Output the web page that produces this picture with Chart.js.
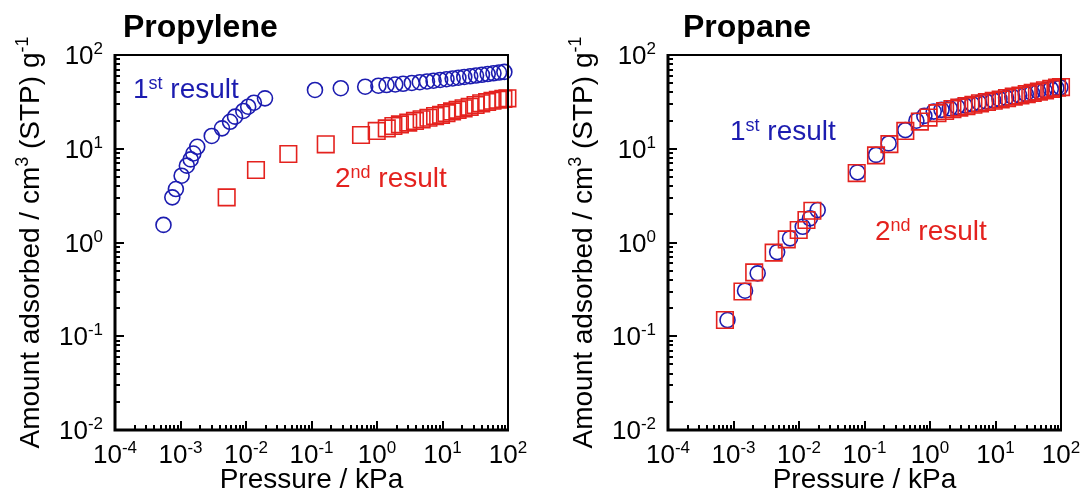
<!DOCTYPE html>
<html>
<head>
<meta charset="utf-8">
<script src="https://cdn.jsdelivr.net/npm/chart.js@4.4.0/dist/chart.umd.min.js"></script>
<style>
  html, body { margin: 0; padding: 0; background: #fff; }
  #wrap { position: relative; width: 1083px; height: 490px; }
  #wrap canvas { position: absolute; top: 0; }
</style>
</head>
<body>
<div id="wrap">
  <canvas id="propylene" width="540" height="490" style="left:0"></canvas>
  <canvas id="propane" width="543" height="490" style="left:540px"></canvas>
</div>
<script>
// Propylene isotherm, pressure in kPa, amount in cm3(STP)/g
var propyleneP1 = [5.5e-4, 7.5e-4, 8.5e-4, 1.04e-3, 1.25e-3, 1.43e-3, 1.57e-3, 1.8e-3, 3.0e-3, 4.3e-3,
  5.7e-3, 6.8e-3, 9.1e-3, 1.08e-2, 1.32e-2, 1.95e-2, 0.113, 0.28, 0.66, 1.05, 1.4, 1.9, 2.5, 3.4, 4.5,
  5.8, 7.3, 9.2, 11.5, 14.3, 17.5, 21.5, 26.5, 32.5, 40, 49, 60, 73, 88];
var propyleneQ1 = [1.54, 3.03, 3.72, 5.16, 6.6, 7.7, 8.9, 10.5, 13.7, 16.5,
  19.4, 22, 25.3, 28.1, 31, 34.5, 42.4, 44.2, 45.9, 47, 47.8, 48.5, 49.3, 50.3, 51.3,
  52.2, 53.2, 54.2, 55.2, 56.2, 57.2, 58.3, 59.3, 60.4, 61.5, 62.6, 63.8, 65, 66];
var propyleneP2 = [5.07e-3, 1.42e-2, 4.43e-2, 0.165, 0.57, 0.99, 1.41, 1.78, 2.24, 3.0, 3.8, 4.8, 6.1,
  7.7, 9.5, 11.5, 14, 17, 21, 26, 32, 39, 48, 58, 70, 85, 98];
var propyleneQ2 = [3.03, 5.93, 8.79, 11.15, 14.0, 15.5, 16.5, 17.5, 18.2, 19.0, 19.8, 20.6, 21.4,
  22.3, 23, 24, 25, 26, 27, 28, 29.3, 30.5, 31.5, 32.5, 33.3, 34, 34.5];

// Propane isotherm
var propaneP1 = [8.1e-4, 1.5e-3, 2.34e-3, 4.64e-3, 7.3e-3, 1.14e-2, 1.47e-2, 1.93e-2, 7.8e-2, 0.15,
  0.234, 0.42, 0.62, 0.82, 1.14, 1.5, 2.0, 2.6, 3.4, 4.4, 5.6, 7.2, 9.2, 11.5, 14.5, 18, 23, 29,
  36, 45, 56, 70, 85, 98];
var propaneQ1 = [0.149, 0.306, 0.469, 0.79, 1.107, 1.47, 1.81, 2.22, 5.6, 8.6,
  11.4, 15.8, 19.9, 22.4, 24.9, 26, 27, 28, 29, 30, 31, 32, 33, 34, 35, 36, 37.2, 38.3,
  39.5, 40.8, 42, 43.5, 44.5, 45.2];
var propaneP2 = [7.4e-4, 1.37e-3, 2.07e-3, 4.1e-3, 6.5e-3, 9.9e-3, 1.3e-2, 1.6e-2, 7.6e-2, 0.15,
  0.24, 0.42, 0.7, 0.95, 1.3, 1.7, 2.2, 2.8, 3.6, 4.6, 5.8, 7.4, 9.4, 12, 15, 19, 24, 30,
  37, 46, 57, 71, 87, 100];
var propaneQ2 = [0.149, 0.30, 0.48, 0.78, 1.08, 1.36, 1.74, 2.18, 5.5, 8.5,
  11.2, 15.5, 19.5, 21.5, 24, 25.3, 26.5, 27.5, 28.5, 29.5, 30.5, 31.5, 32.5, 33.5, 34.7, 36, 37, 38.2,
  39.5, 40.7, 42, 43.5, 44.8, 45.5];

// decade exponents for the tick labels
var xTickExps = [-4, -3, -2, -1, 0, 1, 2];
var yTickExps = [-2, -1, 0, 1, 2];

var BLUE = '#1c1cb0';
var RED = '#e4221e';
var FONT = "'Liberation Sans', Arial, sans-serif";

function pts(xs, ys) {
  return xs.map(function (v, i) { return { x: v, y: ys[i] }; });
}

// draws a run of text pieces, some raised as superscripts
function drawRun(ctx, parts, x, y, align, size, supSize, rise, weight) {
  var w = 0;
  parts.forEach(function (p) {
    ctx.font = (weight || 'normal') + ' ' + (p.sup ? supSize : size) + 'px ' + FONT;
    p.w = ctx.measureText(p.t).width;
    w += p.w;
  });
  var cx = align === 'center' ? x - w / 2 : (align === 'right' ? x - w : x);
  ctx.textAlign = 'left';
  ctx.textBaseline = 'alphabetic';
  parts.forEach(function (p) {
    ctx.font = (weight || 'normal') + ' ' + (p.sup ? supSize : size) + 'px ' + FONT;
    ctx.fillText(p.t, cx, p.sup ? y - rise : y);
    cx += p.w;
  });
}

function pow10(e) {
  return [{ t: '10' }, { t: String(e), sup: true }];
}

var framePlugin = {
  id: 'isoFrame',
  afterDatasetsDraw: function (chart) {
    var ctx = chart.ctx, a = chart.chartArea, xs = chart.scales.x, ys = chart.scales.y;
    ctx.save();
    ctx.strokeStyle = '#000';
    ctx.lineWidth = 2;
    ctx.beginPath();
    xTickExps.forEach(function (e, i) {
      for (var m = 1; m < 10; m++) {
        if (m > 1 && i === xTickExps.length - 1) break;
        var px = Math.round(xs.getPixelForValue(m * Math.pow(10, e)));
        var len = m === 1 ? 9 : 5;
        ctx.moveTo(px, a.bottom);
        ctx.lineTo(px, a.bottom - len);
      }
    });
    yTickExps.forEach(function (e, i) {
      for (var m = 1; m < 10; m++) {
        if (m > 1 && i === yTickExps.length - 1) break;
        var py = Math.round(ys.getPixelForValue(m * Math.pow(10, e)));
        var len = m === 1 ? 9 : 5;
        ctx.moveTo(a.left, py);
        ctx.lineTo(a.left + len, py);
      }
    });
    ctx.stroke();
    // box
    ctx.lineWidth = 2;
    ctx.beginPath();
    ctx.moveTo(a.left, a.top);
    ctx.lineTo(a.right, a.top);
    ctx.lineTo(a.right, a.bottom);
    ctx.stroke();
    ctx.lineWidth = 3;
    ctx.beginPath();
    ctx.moveTo(a.left, a.top - 1);
    ctx.lineTo(a.left, a.bottom);
    ctx.lineTo(a.right + 1, a.bottom);
    ctx.stroke();
    ctx.restore();
  },
  afterDraw: function (chart, args, opts) {
    var ctx = chart.ctx, a = chart.chartArea, xs = chart.scales.x, ys = chart.scales.y;
    ctx.save();
    ctx.fillStyle = '#000';
    // tick labels
    xTickExps.forEach(function (e) {
      drawRun(ctx, pow10(e), xs.getPixelForValue(Math.pow(10, e)), a.bottom + 33, 'center', 26, 17, 10);
    });
    yTickExps.forEach(function (e) {
      drawRun(ctx, pow10(e), a.left - 12, ys.getPixelForValue(Math.pow(10, e)) + 9, 'right', 26, 17, 10);
    });
    // axis titles
    drawRun(ctx, [{ t: 'Pressure / kPa' }], (a.left + a.right) / 2, a.bottom + 58, 'center', 28, 18, 0);
    ctx.save();
    ctx.translate(a.left - 76, (a.top + a.bottom) / 2);
    ctx.rotate(-Math.PI / 2);
    drawRun(ctx, [{ t: 'Amount adsorbed / cm' }, { t: '3', sup: true }, { t: ' (STP) g' }, { t: '-1', sup: true }],
      0, 0, 'center', 28, 18, 11);
    ctx.restore();
    // panel title
    drawRun(ctx, [{ t: opts.title }], a.left + opts.titleDx, 37, 'left', 32, 20, 0, 'bold');
    // run labels
    opts.notes.forEach(function (n) {
      ctx.fillStyle = n.color;
      drawRun(ctx, [{ t: n.num }, { t: n.sfx, sup: true }, { t: ' result' }], a.left + n.dx, a.top + n.dy,
        'left', 28, 18, 9);
    });
    ctx.restore();
  }
};

function makeChart(id, p1, q1, p2, q2, pad, plug) {
  return new Chart(document.getElementById(id), {
    type: 'scatter',
    data: {
      datasets: [{
        label: '1st result',
        data: pts(p1, q1),
        pointStyle: 'circle',
        pointRadius: 7.5,
        pointHoverRadius: 7.5,
        borderColor: BLUE,
        backgroundColor: 'rgba(0,0,0,0)',
        pointBorderWidth: 1.6,
        clip: false,
        order: 1
      }, {
        label: '2nd result',
        data: pts(p2, q2),
        pointStyle: 'rect',
        pointRadius: 11.7,
        pointHoverRadius: 11.7,
        borderColor: RED,
        backgroundColor: 'rgba(0,0,0,0)',
        pointBorderWidth: 1.6,
        clip: false,
        order: 0
      }]
    },
    options: {
      responsive: false,
      animation: false,
      devicePixelRatio: 1,
      layout: { padding: pad },
      scales: {
        x: { type: 'logarithmic', min: 1e-4, max: 100, display: false },
        y: { type: 'logarithmic', min: 1e-2, max: 100, display: false }
      },
      plugins: {
        legend: { display: false },
        tooltip: { enabled: false },
        isoFrame: plug
      }
    },
    plugins: [framePlugin]
  });
}

makeChart('propylene', propyleneP1, propyleneQ1, propyleneP2, propyleneQ2,
  { left: 115, right: 32, top: 55, bottom: 60 },
  {
    title: 'Propylene', titleDx: 8,
    notes: [
      { num: '1', sfx: 'st', color: BLUE, dx: 18, dy: 43 },
      { num: '2', sfx: 'nd', color: RED, dx: 220, dy: 132 }
    ]
  });

makeChart('propane', propaneP1, propaneQ1, propaneP2, propaneQ2,
  { left: 128, right: 22, top: 55, bottom: 60 },
  {
    title: 'Propane', titleDx: 15,
    notes: [
      { num: '1', sfx: 'st', color: BLUE, dx: 62, dy: 85 },
      { num: '2', sfx: 'nd', color: RED, dx: 207, dy: 185 }
    ]
  });
</script>
</body>
</html>
